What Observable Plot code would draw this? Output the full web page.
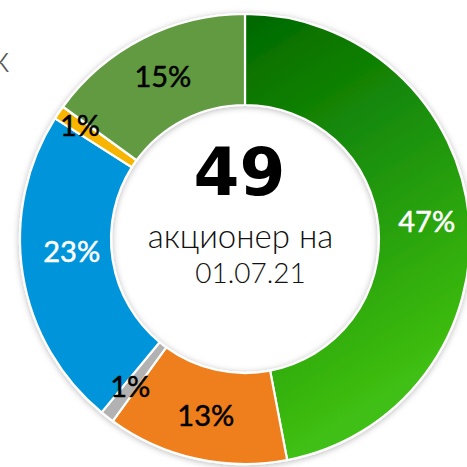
<!DOCTYPE html>
<html><head><meta charset="utf-8">
<script src="https://cdn.jsdelivr.net/npm/d3@7"></script>
<script src="https://cdn.jsdelivr.net/npm/@observablehq/plot@0.6"></script>
<style>body{margin:0;background:#fff;overflow:hidden}</style>
</head><body><div id="chart"></div>
<script>
// ---- data ----
const categories = ["s47", "s13", "s1a", "s23", "s1b", "s15"];
const shares = [47, 13, 1, 23, 1, 15];
const labels = ["47%", "13%", "1%", "23%", "1%", "15%"];
const sliceColors = ["url(#grad47)", "#ef7f1a", "#b2b2b2", "#0095db", "#f7b500", "#629a42"];
const labelColors = ["#ffffff", "#000000", "#000000", "#ffffff", "#000000", "#000000"];
const centerNumber = "49";
const centerLines = ["акционер на", "01.07.21"];
const cutText = "к";

// ---- layout constants ----
const R = 225, r0 = 134;
const pie = d3.pie().sort(null).value(d => d.value)(
  categories.map((c, i) => ({id: c, value: shares[i], label: labels[i], color: sliceColors[i], lc: labelColors[i]}))
);
const lr = {s1b: 200, s1a: 188};
const table = pie.map(p => {
  const a = (p.startAngle + p.endAngle) / 2;
  const rr = lr[p.data.id] || 182;
  return {...p.data, a0: p.startAngle, a1: p.endAngle, x: rr * Math.sin(a), y: -rr * Math.cos(a)};
});

const donut = (index, scales, values, dims) => {
  const cx = scales.x(0), cy = scales.y(0);
  const k = scales.x(1) - scales.x(0);
  const g = d3.create("svg:g");
  const defs = g.append("defs");
  const lg = defs.append("linearGradient").attr("id", "grad47")
    .attr("gradientUnits", "userSpaceOnUse")
    .attr("x1", 0).attr("y1", -R * k).attr("x2", R * k * 0.95).attr("y2", R * k * 0.5);
  lg.append("stop").attr("offset", "0").attr("stop-color", "#006800");
  lg.append("stop").attr("offset", "0.5").attr("stop-color", "#1e940a");
  lg.append("stop").attr("offset", "1").attr("stop-color", "#40c012");
  const f = defs.append("filter").attr("id", "shadow").attr("x", "-20%").attr("y", "-20%").attr("width", "140%").attr("height", "140%");
  f.append("feDropShadow").attr("dx", 0).attr("dy", 1).attr("stdDeviation", 3)
    .attr("flood-color", "#000").attr("flood-opacity", 0.28);
  const arc = d3.arc().innerRadius(r0 * k).outerRadius(R * k);
  const gg = g.append("g").attr("transform", `translate(${cx},${cy})`).attr("filter", "url(#shadow)");
  gg.selectAll("path").data(table).join("path")
    .attr("d", d => arc({startAngle: d.a0, endAngle: d.a1}))
    .attr("fill", d => d.color)
    .attr("stroke", "#fff").attr("stroke-width", 2.2).attr("stroke-linejoin", "round");
  return g.node();
};

const labelStyle = {x: "x", y: "y", text: "label", fill: "lc", stroke: "lc", strokeWidth: 0.5, fontSize: 29};
const plot = Plot.plot({
  width: 467, height: 467,
  margin: 0,
  x: {domain: [-245, 222], range: [0, 467], axis: null},
  y: {domain: [-239, 228], range: [0, 467], axis: null},
  color: {type: "identity"},
  style: {fontFamily: "Lato, 'Open Sans', sans-serif", background: "#fff"},
  marks: [
    donut,
    Plot.text(table, {...labelStyle, filter: d => d.id !== "s23"}),
    Plot.text(table, {...labelStyle, filter: d => d.id === "s23", dx: 6, dy: -15}),
    Plot.text([centerNumber], {x: -6, y: -66, text: d => d, fontSize: 66, fontWeight: "bold", fontFamily: "'DejaVu Sans', sans-serif", fill: "#000"}),
    Plot.text([centerLines[0]], {x: -5, y: -2, text: d => d, fontSize: 33, fontWeight: 300, fill: "#111"}),
    Plot.text([centerLines[1]], {x: 5, y: 35, text: d => d, fontSize: 28, fontWeight: 300, fill: "#111"}),
    Plot.text([cutText], {x: -236, y: -180, text: d => d, fontSize: 38, fontWeight: 300, fill: "#555", textAnchor: "end"})
  ]
});
document.getElementById("chart").appendChild(plot);
</script>
</body></html>
